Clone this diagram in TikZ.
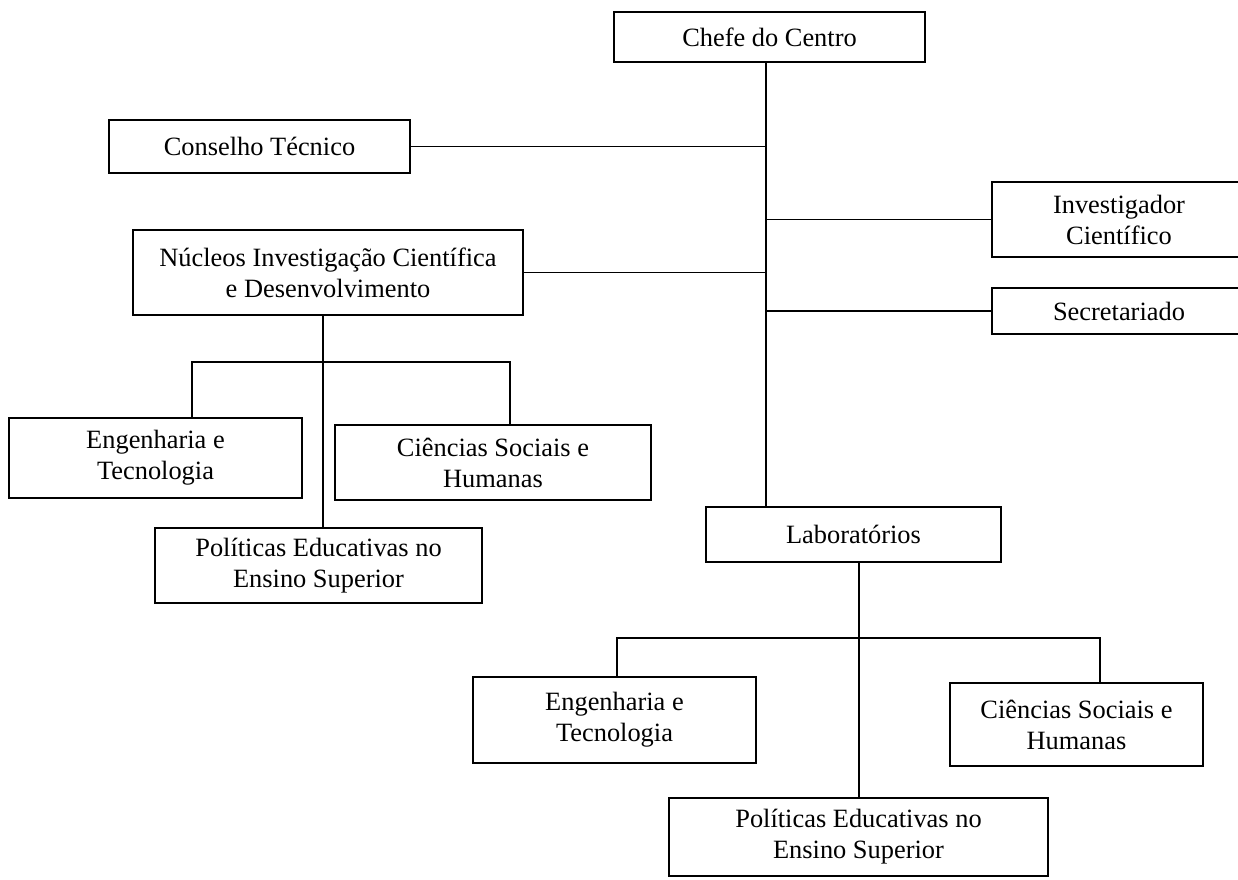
\documentclass[tikz,border=0pt]{standalone}
\usepackage{fontspec}
\setmainfont{Liberation Serif}
\usepackage{tikz}

\begin{document}
\begin{tikzpicture}[x=0.5pt, y=-0.5pt,
		unit/.style = {draw, line width=0.9pt, align=center, inner sep=0pt,
			font=\fontsize{13.2}{15.5}\selectfont},
		dims/.style 2 args = {minimum width=#1pt, minimum height=#2pt},
		link/.style = {line width=0.7pt}]
		\useasboundingbox (0,0) rectangle (1238,879);
		% top level
		\node[unit, dims={155.5}{25}] (chefe) at (769.5,37) {Chefe do Centro};
		\node[unit, dims={150.5}{26.5}] (conselho) at (259.5,146.5) {Conselho Técnico};
		\node[unit, dims={127}{37.5}] (investigador) at (1119,219.5) {Investigador\\Científico};
		\node[unit, dims={195}{42.5}] (nucleos) at (328,272.5) {Núcleos Investigação Científica\\e Desenvolvimento};
		\node[unit, dims={127}{23}] (secretariado) at (1119,311) {Secretariado};
		\node[unit, dims={147.5}{27.5}] (laboratorios) at (853.5,534.5) {Laboratórios};
		% nucleos
		\node[unit, dims={146.5}{40}] (lengenharia) at (155.5,458) {Engenharia e\\Tecnologia};
		\node[unit, dims={158}{37.5}] (lciencias) at (493,462.5) {Ciências Sociais e\\Humanas};
		\node[unit, dims={163.5}{37.5}] (lpoliticas) at (318.5,565.5) {Políticas Educativas no\\Ensino Superior};
		% laboratorios
		\node[unit, dims={141.5}{43}] (rengenharia) at (614.5,720) {Engenharia e\\Tecnologia};
		\node[unit, dims={126.5}{41.5}] (rciencias) at (1076.5,724.5) {Ciências Sociais e\\Humanas};
		\node[unit, dims={189.5}{39}] (rpoliticas) at (858.5,837) {Políticas Educativas no\\Ensino Superior};
		\coordinate (spine) at (766,0);
		\coordinate (nstem) at (323,0);
		\coordinate (lstem) at (859,0);
		\coordinate (lbl) at (192,362);
		\coordinate (lbr) at (510,362);
		\coordinate (rbl) at (617,638);
		\coordinate (rbr) at (1100,638);
		\draw[link] (chefe.south -| spine) -- (laboratorios.north -| spine);
		\draw[link] (conselho.east) -- (conselho.east -| spine);
		\draw[link] (nucleos.east) -- (nucleos.east -| spine);
		\draw[link] (investigador.west) -- (investigador.west -| spine);
		\draw[link] (secretariado.west) -- (secretariado.west -| spine);
		\draw[link] (nucleos.south -| nstem) -- (lpoliticas.north -| nstem);
		\draw[link] (lengenharia.north -| lbl) -- (lbl) -- (lbr) -- (lciencias.north -| lbr);
		\draw[link] (laboratorios.south -| lstem) -- (rpoliticas.north -| lstem);
		\draw[link] (rengenharia.north -| rbl) -- (rbl) -- (rbr) -- (rciencias.north -| rbr);
	\end{tikzpicture}
\end{document}
